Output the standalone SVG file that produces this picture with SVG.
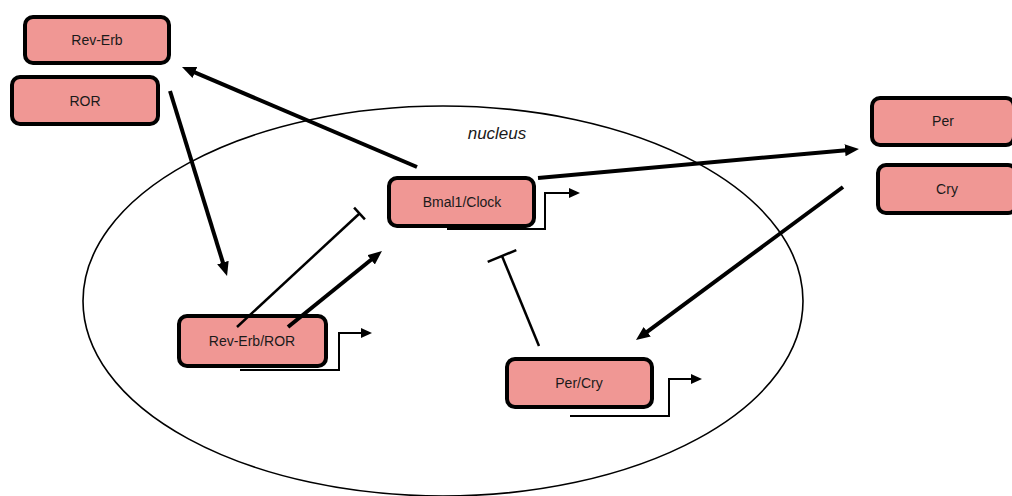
<svg xmlns="http://www.w3.org/2000/svg" width="1012" height="496" viewBox="0 0 1012 496">
<style>
.box{fill:#F09794;stroke:#000;stroke-width:4}
.lbl{font-family:"Liberation Sans",Arial,sans-serif;font-size:14px;fill:#1a1a1a;text-anchor:middle}
.act{stroke:#000;stroke-width:4;fill:none;marker-end:url(#big)}
.inh{stroke:#000;stroke-width:2.5;fill:none}
.prom{stroke:#000;stroke-width:2;fill:none;marker-end:url(#small)}
</style>
<defs>
<marker id="big" markerUnits="userSpaceOnUse" markerWidth="16" markerHeight="14" refX="4" refY="6" orient="auto">
<path d="M0,0 L14,6 L0,12 z" fill="#000"/>
</marker>
<marker id="small" markerUnits="userSpaceOnUse" markerWidth="12" markerHeight="12" refX="1" refY="5" orient="auto">
<path d="M0,0 L11,5 L0,10 z" fill="#000"/>
</marker>
</defs>
<rect width="1012" height="496" fill="#fff"/>
<g id="nucleus">
<ellipse cx="443" cy="301" rx="360" ry="195" fill="none" stroke="#000" stroke-width="1.6"/>
<text x="497" y="139" font-family="'Liberation Sans',Arial,sans-serif" font-size="17" font-style="italic" text-anchor="middle" fill="#1a1a1a">nucleus</text>
</g>
<g id="rev-erb">
<rect class="box" x="25" y="17" width="144" height="46" rx="8"/>
<text class="lbl" x="97" y="45">Rev-Erb</text>
</g>
<g id="ror">
<rect class="box" x="12" y="77" width="146" height="47" rx="8"/>
<text class="lbl" x="85" y="106">ROR</text>
</g>
<g id="bmal1-clock">
<rect class="box" x="389" y="178" width="145" height="48" rx="8"/>
<text class="lbl" x="462" y="207">Bmal1/Clock</text>
</g>
<g id="rev-erb-ror">
<rect class="box" x="179" y="316" width="147" height="50" rx="8"/>
<text class="lbl" x="252" y="346">Rev-Erb/ROR</text>
</g>
<g id="per-cry">
<rect class="box" x="507" y="359" width="145" height="48" rx="8"/>
<text class="lbl" x="579" y="388">Per/Cry</text>
</g>
<g id="per">
<rect class="box" x="872" y="98" width="142" height="47" rx="8"/>
<text class="lbl" x="943" y="126">Per</text>
</g>
<g id="cry">
<rect class="box" x="878" y="165" width="138" height="48" rx="8"/>
<text class="lbl" x="947" y="194">Cry</text>
</g>
<g id="connectors">
<line class="act" x1="417" y1="167" x2="191.2" y2="70.9"/>
<line class="act" x1="170" y1="91" x2="224.1" y2="266.4"/>
<line class="act" x1="538" y1="178" x2="849" y2="149.9"/>
<line class="act" x1="843" y1="187" x2="644" y2="334.1"/>
<line class="act" x1="288" y1="327" x2="374.2" y2="257.3"/>
<line class="inh" x1="237" y1="327" x2="359.5" y2="213.5"/>
<line class="inh" x1="354.1" y1="207.6" x2="364.9" y2="219.4"/>
<line class="inh" x1="539" y1="346" x2="502" y2="256"/>
<line class="inh" x1="487.7" y1="261.9" x2="516.3" y2="250.1"/>
<path class="prom" d="M447,229 H545 V193 H570"/>
<path class="prom" d="M240,370 H339 V333 H362"/>
<path class="prom" d="M570,416 H669 V379 H692"/>
</g>
</svg>
